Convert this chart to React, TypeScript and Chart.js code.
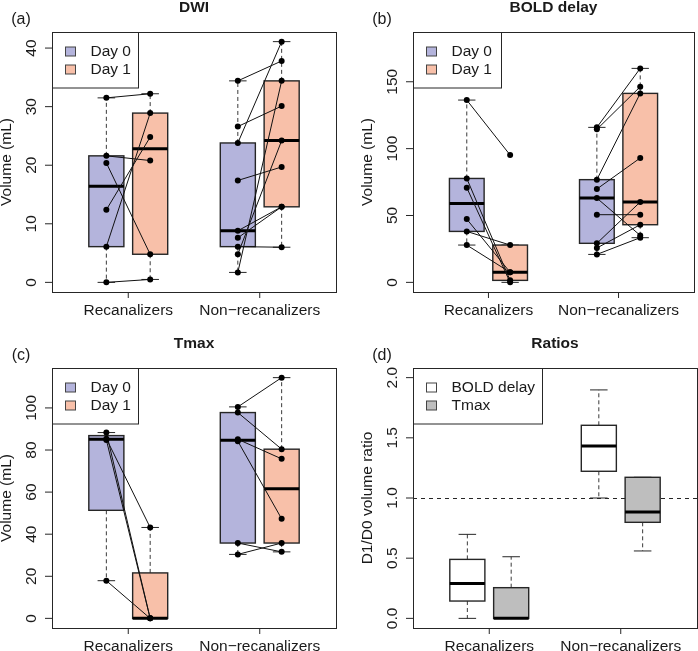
import React, { useEffect, useRef } from "react";
import { Chart, registerables } from "chart.js";

Chart.register(...registerables);

const FONT = '"Liberation Sans", Arial, Helvetica, sans-serif';

// ---------- shared categories ----------
const groupLabels = ["Recanalizers", "Non\u2212recanalizers"];
const groupTickPositions = [1.5, 4.5];
const boxPositions = [1, 2, 4, 5]; // Recan D0, Recan D1, Non-recan D0, Non-recan D1
const dayLegend = ["Day 0", "Day 1"];
const ratioLegend = ["BOLD delay", "Tmax"];

// ---------- (a) DWI (index i on Day 0 is paired with index i on Day 1) ----------
const dwiRecanDay0 = [31.5, 21.6, 20.4, 12.4, 6.1, 0.0];
const dwiRecanDay1 = [32.2, 20.8, 4.8, 24.8, 28.9, 0.5];
const dwiNonDay0 = [34.4, 26.6, 23.8, 17.4, 8.8, 7.6, 6.1, 4.8, 1.7];
const dwiNonDay1 = [37.8, 30.1, 41.1, 19.7, 12.9, 12.9, 6.0, 24.2, 34.4];
const dwiTicks = [0, 10, 20, 30, 40];

// ---------- (b) BOLD delay ----------
const boldRecanDay0 = [136.3, 77.7, 70.8, 47.3, 38.1, 27.9];
const boldRecanDay1 = [95.2, 1.5, 0.0, 7.5, 27.9, 7.5];
const boldNonDay0 = [115.9, 114.4, 76.8, 69.8, 63.0, 50.6, 29.2, 25.7, 20.9];
const boldNonDay1 = [160.0, 146.3, 141.3, 93.0, 35.1, 50.6, 60.1, 43.1, 33.4];
const boldTicks = [0, 50, 100, 150];

// ---------- (c) Tmax ----------
const tmaxRecanDay0 = [88.3, 85.4, 84.8, 17.9];
const tmaxRecanDay1 = [0.0, 43.2, 0.0, 0.0];
const tmaxNonDay0 = [100.5, 97.8, 85.1, 84.2, 35.8, 30.4];
const tmaxNonDay1 = [114.4, 80.4, 75.8, 47.3, 31.6, 35.8];
const tmaxTicks = [0, 20, 40, 60, 80, 100];

// ---------- (d) Ratios: [lower whisker, lower hinge, median, upper hinge, upper whisker] ----------
const ratioBoldRecan = [0.0, 0.144, 0.29, 0.49, 0.698];
const ratioTmaxRecan = [0.0, 0.0, 0.0, 0.255, 0.512];
const ratioBoldNon = [1.0, 1.222, 1.432, 1.604, 1.898];
const ratioTmaxNon = [0.56, 0.798, 0.884, 1.172, 1.172];
const ratioTicks = [0, 0.5, 1, 1.5, 2];
const ratioTickLabels = ["0.0", "0.5", "1.0", "1.5", "2.0"];
const ratioReference = 1;

// ---------- colours ----------
const DAY0_FILL = "#b4b4dc";
const DAY1_FILL = "#f8c0a9";
const BOLD_FILL = "#ffffff";
const TMAX_FILL = "#bebebe";
const INK = "#262626";

// R boxplot.stats (Tukey hinges, 1.5 IQR whiskers)
function fivenum(v: number[]) {
  const x = [...v].sort((a, b) => a - b);
  const n = x.length;
  const n4 = Math.floor((n + 3) / 2) / 2;
  const d = [1, n4, (n + 1) / 2, n + 1 - n4, n];
  return d.map((di) => 0.5 * (x[Math.floor(di) - 1] + x[Math.ceil(di) - 1]));
}
function boxStats(v: number[]) {
  const f = fivenum(v);
  const iqr = f[3] - f[1];
  const lo = Math.min(...v.filter((x) => x >= f[1] - 1.5 * iqr));
  const hi = Math.max(...v.filter((x) => x <= f[3] + 1.5 * iqr));
  return [lo, f[1], f[2], f[3], hi];
}

type Box = { pos: number; stats: number[]; fill: string };
type Pair = { x0: number; x1: number; a: number[]; b: number[] };
type Panel = {
  tag: string;
  title: string;
  yTitle: string;
  yMin: number;
  yMax: number;
  ticks: number[];
  tickLabels: string[];
  boxes: Box[];
  pairs: Pair[];
  legend: { text: string; fill: string }[];
  legendWidth: number;
  refLine?: number;
  left: number;
  top: number;
  w: number;
  h: number;
  padding: { left: number; right: number; top: number; bottom: number };
};

function pairedPanelBoxes(r0: number[], r1: number[], n0: number[], n1: number[]): Box[] {
  return [
    { pos: boxPositions[0], stats: boxStats(r0), fill: DAY0_FILL },
    { pos: boxPositions[1], stats: boxStats(r1), fill: DAY1_FILL },
    { pos: boxPositions[2], stats: boxStats(n0), fill: DAY0_FILL },
    { pos: boxPositions[3], stats: boxStats(n1), fill: DAY1_FILL },
  ];
}
function pairedPanelPairs(r0: number[], r1: number[], n0: number[], n1: number[]): Pair[] {
  return [
    { x0: boxPositions[0], x1: boxPositions[1], a: r0, b: r1 },
    { x0: boxPositions[2], x1: boxPositions[3], a: n0, b: n1 },
  ];
}
const dayLegendItems = [
  { text: dayLegend[0], fill: DAY0_FILL },
  { text: dayLegend[1], fill: DAY1_FILL },
];

const topPad = { top: 32, bottom: 33 };
const botPad = { top: 43, bottom: 23 };
const leftPad = { left: 52, right: 13 };
const rightPad = { left: 64, right: 1 };

const panels: Panel[] = [
  {
    tag: "(a)",
    title: "DWI",
    yTitle: "Volume (mL)",
    yMin: -1.644,
    yMax: 42.744,
    ticks: dwiTicks,
    tickLabels: dwiTicks.map(String),
    boxes: pairedPanelBoxes(dwiRecanDay0, dwiRecanDay1, dwiNonDay0, dwiNonDay1),
    pairs: pairedPanelPairs(dwiRecanDay0, dwiRecanDay1, dwiNonDay0, dwiNonDay1),
    legend: dayLegendItems,
    legendWidth: 86,
    left: 0,
    top: 0,
    w: 349,
    h: 325,
    padding: { ...leftPad, ...topPad },
  },
  {
    tag: "(b)",
    title: "BOLD delay",
    yTitle: "Volume (mL)",
    yMin: -7.2,
    yMax: 187.2,
    ticks: boldTicks,
    tickLabels: boldTicks.map(String),
    boxes: pairedPanelBoxes(boldRecanDay0, boldRecanDay1, boldNonDay0, boldNonDay1),
    pairs: pairedPanelPairs(boldRecanDay0, boldRecanDay1, boldNonDay0, boldNonDay1),
    legend: dayLegendItems,
    legendWidth: 88,
    left: 349,
    top: 0,
    w: 349,
    h: 325,
    padding: { ...rightPad, ...topPad },
  },
  {
    tag: "(c)",
    title: "Tmax",
    yTitle: "Volume (mL)",
    yMin: -4.576,
    yMax: 118.976,
    ticks: tmaxTicks,
    tickLabels: tmaxTicks.map(String),
    boxes: pairedPanelBoxes(tmaxRecanDay0, tmaxRecanDay1, tmaxNonDay0, tmaxNonDay1),
    pairs: pairedPanelPairs(tmaxRecanDay0, tmaxRecanDay1, tmaxNonDay0, tmaxNonDay1),
    legend: dayLegendItems,
    legendWidth: 86,
    left: 0,
    top: 325,
    w: 349,
    h: 326,
    padding: { ...leftPad, ...botPad },
  },
  {
    tag: "(d)",
    title: "Ratios",
    yTitle: "D1/D0 volume ratio",
    yMin: -0.08,
    yMax: 2.08,
    ticks: ratioTicks,
    tickLabels: ratioTickLabels,
    boxes: [
      { pos: boxPositions[0], stats: ratioBoldRecan, fill: BOLD_FILL },
      { pos: boxPositions[1], stats: ratioTmaxRecan, fill: TMAX_FILL },
      { pos: boxPositions[2], stats: ratioBoldNon, fill: BOLD_FILL },
      { pos: boxPositions[3], stats: ratioTmaxNon, fill: TMAX_FILL },
    ],
    pairs: [],
    legend: [
      { text: ratioLegend[0], fill: BOLD_FILL },
      { text: ratioLegend[1], fill: TMAX_FILL },
    ],
    legendWidth: 129,
    refLine: ratioReference,
    left: 349,
    top: 325,
    w: 349,
    h: 326,
    padding: { ...rightPad, ...botPad },
  },
];

function line(ctx: CanvasRenderingContext2D, x0: number, y0: number, x1: number, y1: number) {
  ctx.beginPath();
  ctx.moveTo(x0, y0);
  ctx.lineTo(x1, y1);
  ctx.stroke();
}

function makePlugin(p: Panel) {
  return {
    id: "rstyle",
    beforeDatasetsDraw(chart: any) {
      const ctx: CanvasRenderingContext2D = chart.ctx;
      const xs = chart.scales.x;
      const ys = chart.scales.y;
      const area = chart.chartArea;
      ctx.save();
      if (p.refLine !== undefined) {
        ctx.strokeStyle = INK;
        ctx.lineWidth = 1;
        ctx.setLineDash([4, 4]);
        const y = Math.round(ys.getPixelForValue(p.refLine)) + 0.5;
        line(ctx, area.left, y, area.right, y);
        ctx.setLineDash([]);
      }
      for (const b of p.boxes) {
        const [lo, q1, med, q3, hi] = b.stats;
        const cx = xs.getPixelForValue(b.pos);
        const xl = xs.getPixelForValue(b.pos - 0.4);
        const xr = xs.getPixelForValue(b.pos + 0.4);
        const sl = xs.getPixelForValue(b.pos - 0.2);
        const sr = xs.getPixelForValue(b.pos + 0.2);
        ctx.strokeStyle = "#3a3a3a";
        ctx.lineWidth = 1;
        ctx.setLineDash([4, 3]);
        if (hi > q3) line(ctx, cx, ys.getPixelForValue(q3), cx, ys.getPixelForValue(hi));
        if (lo < q1) line(ctx, cx, ys.getPixelForValue(q1), cx, ys.getPixelForValue(lo));
        ctx.setLineDash([]);
        ctx.strokeStyle = INK;
        line(ctx, sl, ys.getPixelForValue(hi), sr, ys.getPixelForValue(hi));
        line(ctx, sl, ys.getPixelForValue(lo), sr, ys.getPixelForValue(lo));
        const yt = ys.getPixelForValue(q3);
        const yb = ys.getPixelForValue(q1);
        ctx.fillStyle = b.fill;
        ctx.fillRect(xl, yt, xr - xl, yb - yt);
        ctx.lineWidth = 1.4;
        ctx.strokeStyle = INK;
        ctx.strokeRect(xl, yt, xr - xl, yb - yt);
        ctx.lineWidth = 3;
        ctx.strokeStyle = "#000";
        const ym = ys.getPixelForValue(med);
        line(ctx, xl, ym, xr, ym);
      }
      ctx.restore();
    },
    afterDraw(chart: any) {
      const ctx: CanvasRenderingContext2D = chart.ctx;
      const xs = chart.scales.x;
      const ys = chart.scales.y;
      const a = chart.chartArea;
      ctx.save();
      // frame
      ctx.strokeStyle = INK;
      ctx.lineWidth = 1;
      ctx.strokeRect(Math.round(a.left) + 0.5, Math.round(a.top) + 0.5, Math.round(a.right - a.left), Math.round(a.bottom - a.top));
      ctx.fillStyle = "#1a1a1a";
      // y ticks
      ctx.font = `15.5px ${FONT}`;
      p.ticks.forEach((t, i) => {
        const y = ys.getPixelForValue(t);
        line(ctx, a.left, y, a.left - 7, y);
        ctx.save();
        ctx.translate(a.left - 20, y);
        ctx.rotate(-Math.PI / 2);
        ctx.textAlign = "center";
        ctx.textBaseline = "middle";
        ctx.fillText(p.tickLabels[i], 0, 0);
        ctx.restore();
      });
      // x ticks
      groupTickPositions.forEach((t, i) => {
        const x = xs.getPixelForValue(t);
        line(ctx, x, a.bottom, x, a.bottom + 6);
        ctx.textAlign = "center";
        ctx.textBaseline = "middle";
        ctx.fillText(groupLabels[i], x, a.bottom + 18.5);
      });
      // y title
      ctx.save();
      ctx.translate(a.left - 45, (a.top + a.bottom) / 2);
      ctx.rotate(-Math.PI / 2);
      ctx.textAlign = "center";
      ctx.textBaseline = "middle";
      ctx.fillText(p.yTitle, 0, 0);
      ctx.restore();
      // title
      ctx.font = `bold 15.5px ${FONT}`;
      ctx.textAlign = "center";
      ctx.textBaseline = "middle";
      ctx.fillText(p.title, (a.left + a.right) / 2, a.top - 24.5);
      // tag
      ctx.font = `16px ${FONT}`;
      ctx.fillText(p.tag, a.left - 31, a.top - 12.5);
      // legend
      const lx = Math.round(a.left) + 0.5;
      const ly = Math.round(a.top) + 0.5;
      const lh = 55.5;
      ctx.fillStyle = "#fff";
      ctx.fillRect(lx, ly, p.legendWidth, lh);
      ctx.strokeStyle = INK;
      ctx.lineWidth = 1;
      ctx.strokeRect(lx, ly, p.legendWidth, lh);
      ctx.font = `15.5px ${FONT}`;
      p.legend.forEach((item, i) => {
        const cy = a.top + 19 + i * 18;
        ctx.fillStyle = item.fill;
        ctx.fillRect(lx + 13, Math.round(cy - 4.5), 10, 9);
        ctx.strokeStyle = "#444";
        ctx.strokeRect(lx + 13, Math.round(cy - 4.5), 10, 9);
        ctx.fillStyle = "#1a1a1a";
        ctx.textAlign = "left";
        ctx.textBaseline = "middle";
        ctx.fillText(item.text, lx + 38, cy + 0.5);
      });
      ctx.restore();
    },
  };
}

function buildDatasets(p: Panel) {
  const points: { x: number; y: number }[] = [];
  const segs: { x: number; y: number | null }[] = [];
  p.pairs.forEach((pr) => {
    pr.a.forEach((v, i) => {
      points.push({ x: pr.x0, y: v });
      points.push({ x: pr.x1, y: pr.b[i] });
      segs.push({ x: pr.x0, y: v });
      segs.push({ x: pr.x1, y: pr.b[i] });
      segs.push({ x: (pr.x0 + pr.x1) / 2, y: null });
    });
  });
  if (!points.length) return [];
  return [
    {
      type: "scatter",
      label: "points",
      data: points,
      pointRadius: 3,
      pointBackgroundColor: "#000",
      pointBorderWidth: 0,
      showLine: false,
    },
    {
      type: "line",
      label: "pairs",
      data: segs,
      borderColor: "#111",
      borderWidth: 1,
      pointRadius: 0,
      spanGaps: false,
      tension: 0,
      fill: false,
    },
  ];
}

function PanelChart({ panel }: { panel: Panel }) {
  const ref = useRef<HTMLCanvasElement | null>(null);
  useEffect(() => {
    if (!ref.current) return;
    const chart = new Chart(ref.current, {
      type: "scatter",
      data: { datasets: buildDatasets(panel) as any },
      options: {
        responsive: false,
        devicePixelRatio: 1,
        animation: false,
        events: [],
        layout: { padding: panel.padding },
        scales: {
          x: { type: "linear", display: false, min: -0.24, max: 6.24 },
          y: { type: "linear", display: false, min: panel.yMin, max: panel.yMax },
        },
        plugins: { legend: { display: false }, tooltip: { enabled: false }, title: { display: false } },
      },
      plugins: [makePlugin(panel)],
    } as any);
    return () => chart.destroy();
  }, [panel]);
  return (
    <canvas
      ref={ref}
      width={panel.w}
      height={panel.h}
      style={{ position: "absolute", left: panel.left, top: panel.top, width: panel.w, height: panel.h }}
    />
  );
}

export default function App() {
  return (
    <div style={{ position: "absolute", left: 0, top: 0, width: 698, height: 651, background: "#fff" }}>
      {panels.map((p) => (
        <PanelChart key={p.tag} panel={p} />
      ))}
    </div>
  );
}
